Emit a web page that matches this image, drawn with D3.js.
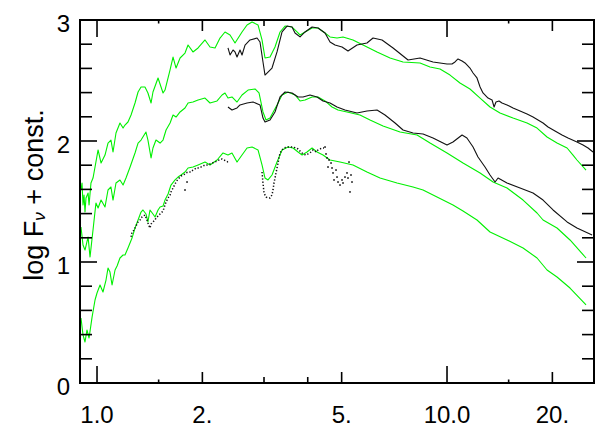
<!DOCTYPE html>
<html><head><meta charset="utf-8">
<script src="https://cdn.jsdelivr.net/npm/d3@7"></script>
<style>
body{margin:0;background:#fff}
svg{display:block}
text{font-family:"Liberation Sans",Arial,Helvetica,sans-serif;fill:#000}
</style>
</head><body>
<svg id="c" width="598" height="436"></svg>
<script>
// ---- data: [wavelength (micron), log F_nu + const] ----
const modelTop = [[0.900,1.595],[0.906,1.653],[0.912,1.471],[0.918,1.554],[0.924,1.413],[0.930,1.529],[0.943,1.570],[0.949,1.471],[0.961,1.653],[0.974,1.694],[0.987,1.785],[1.007,1.926],[1.027,1.818],[1.054,1.884],[1.075,1.983],[1.096,2.008],[1.111,1.909],[1.133,2.066],[1.163,2.149],[1.187,2.107],[1.202,2.132],[1.226,2.157],[1.251,2.215],[1.284,2.314],[1.310,2.405],[1.336,2.446],[1.371,2.446],[1.398,2.397],[1.427,2.314],[1.445,2.405],[1.494,2.521],[1.544,2.397],[1.564,2.421],[1.617,2.587],[1.649,2.694],[1.682,2.603],[1.727,2.686],[1.784,2.727],[1.820,2.793],[1.880,2.736],[1.944,2.769],[2.035,2.835],[2.103,2.777],[2.174,2.769],[2.246,2.851],[2.321,2.901],[2.399,2.876],[2.479,2.810],[2.596,2.901],[2.683,2.959],[2.773,2.983],[2.884,2.959],[2.961,2.835],[3.020,2.686],[3.121,2.694],[3.225,2.777],[3.334,2.901],[3.445,2.950],[3.608,2.942],[3.728,2.901],[3.802,2.876],[3.930,2.901],[4.115,2.934],[4.281,2.934],[4.482,2.893],[4.632,2.860],[4.850,2.851],[5.045,2.860],[5.387,2.835],[5.754,2.793],[6.310,2.736],[6.875,2.686],[7.488,2.653],[8.374,2.645],[8.943,2.612],[9.550,2.595],[10.20,2.545],[10.89,2.479],[11.63,2.430],[12.43,2.355],[13.27,2.281],[14.17,2.231],[15.44,2.190],[16.93,2.149],[18.08,2.107],[19.31,2.033],[20.62,1.983],[22.03,1.942],[22.91,1.884],[23.51,1.843],[24.96,1.760]];

const obsTop = [[2.367,2.769],[2.399,2.711],[2.447,2.752],[2.479,2.736],[2.512,2.694],[2.562,2.752],[2.596,2.711],[2.648,2.793],[2.736,2.835],[2.866,2.851],[2.922,2.818],[2.980,2.653],[3.020,2.545],[3.080,2.570],[3.162,2.603],[3.268,2.736],[3.378,2.901],[3.491,2.950],[3.608,2.942],[3.679,2.893],[3.802,2.860],[3.930,2.901],[4.115,2.942],[4.281,2.934],[4.482,2.893],[4.632,2.818],[4.786,2.793],[5.012,2.777],[5.213,2.744],[5.531,2.793],[5.906,2.810],[6.146,2.851],[6.521,2.835],[7.012,2.769],[7.739,2.669],[8.374,2.686],[9.120,2.653],[9.550,2.645],[10.0,2.636],[10.33,2.636],[10.54,2.653],[10.75,2.678],[11.04,2.661],[11.26,2.645],[11.63,2.603],[11.87,2.562],[12.18,2.521],[12.43,2.446],[12.67,2.397],[13.10,2.355],[13.45,2.339],[13.63,2.281],[13.80,2.322],[14.08,2.331],[14.36,2.314],[14.84,2.298],[15.44,2.273],[16.17,2.248],[16.93,2.223],[17.61,2.198],[18.20,2.174],[18.81,2.149],[19.44,2.116],[20.35,2.083],[21.31,2.050],[22.17,2.025],[23.51,1.992],[24.47,1.967],[25.29,1.942],[26.13,1.909]];

const modelMid = [[0.900,1.289],[0.912,1.140],[0.924,1.099],[0.943,1.207],[0.955,1.041],[0.974,1.264],[0.993,1.488],[1.007,1.446],[1.027,1.512],[1.054,1.455],[1.075,1.595],[1.096,1.620],[1.111,1.512],[1.133,1.653],[1.163,1.678],[1.187,1.636],[1.210,1.694],[1.243,1.785],[1.284,1.901],[1.310,1.983],[1.336,2.008],[1.380,2.074],[1.398,2.008],[1.427,1.860],[1.445,1.942],[1.474,2.008],[1.514,1.983],[1.544,2.008],[1.575,2.091],[1.617,2.149],[1.649,2.215],[1.682,2.198],[1.727,2.240],[1.784,2.273],[1.820,2.314],[1.880,2.322],[1.944,2.339],[2.035,2.355],[2.103,2.314],[2.203,2.331],[2.276,2.380],[2.321,2.397],[2.367,2.355],[2.430,2.364],[2.512,2.322],[2.596,2.380],[2.701,2.421],[2.828,2.430],[2.903,2.397],[2.980,2.240],[3.040,2.174],[3.121,2.190],[3.268,2.298],[3.378,2.380],[3.514,2.405],[3.679,2.380],[3.802,2.331],[3.930,2.339],[4.115,2.364],[4.281,2.364],[4.482,2.331],[4.693,2.281],[4.882,2.256],[5.179,2.240],[5.640,2.215],[6.026,2.174],[6.564,2.124],[7.342,2.074],[8.210,2.050],[8.943,1.983],[10.0,1.901],[11.11,1.818],[12.43,1.736],[13.54,1.661],[14.84,1.612],[16.49,1.512],[18.08,1.405],[18.81,1.347],[20.62,1.281],[22.46,1.182],[24.96,1.033]];

const obsMid = [[2.367,2.281],[2.430,2.256],[2.512,2.273],[2.562,2.298],[2.683,2.314],[2.791,2.322],[2.922,2.298],[2.980,2.190],[3.020,2.157],[3.121,2.174],[3.225,2.240],[3.334,2.364],[3.445,2.405],[3.608,2.397],[3.753,2.364],[3.878,2.364],[4.061,2.380],[4.253,2.364],[4.423,2.331],[4.632,2.314],[4.850,2.281],[5.111,2.256],[5.387,2.240],[5.531,2.231],[5.906,2.248],[6.310,2.256],[6.651,2.215],[7.105,2.149],[7.488,2.091],[7.998,2.066],[8.541,2.058],[9.120,2.025],[10.0,1.967],[10.40,1.992],[11.04,2.050],[11.40,2.025],[11.87,1.950],[12.26,1.868],[12.84,1.785],[13.27,1.719],[13.72,1.661],[13.99,1.694],[14.84,1.653],[16.17,1.612],[17.61,1.570],[18.81,1.512],[20.09,1.430],[22.03,1.331],[23.51,1.281],[25.97,1.223]];

const modelLow = [[0.900,0.537],[0.912,0.397],[0.924,0.339],[0.936,0.438],[0.949,0.372],[0.968,0.545],[0.987,0.686],[1.000,0.744],[1.020,0.810],[1.040,0.752],[1.061,0.851],[1.075,0.950],[1.089,0.917],[1.104,0.810],[1.126,0.934],[1.141,0.967],[1.163,1.033],[1.187,1.058],[1.202,1.058],[1.226,1.116],[1.259,1.198],[1.284,1.281],[1.310,1.347],[1.336,1.413],[1.353,1.430],[1.380,1.397],[1.398,1.331],[1.417,1.430],[1.445,1.397],[1.465,1.372],[1.494,1.430],[1.514,1.455],[1.544,1.463],[1.564,1.512],[1.596,1.562],[1.627,1.636],[1.671,1.678],[1.704,1.702],[1.738,1.719],[1.784,1.744],[1.820,1.777],[1.880,1.785],[1.944,1.802],[2.035,1.826],[2.103,1.802],[2.203,1.843],[2.291,1.901],[2.367,1.884],[2.430,1.901],[2.512,1.826],[2.596,1.884],[2.683,1.942],[2.773,1.950],[2.884,1.926],[2.961,1.802],[3.020,1.694],[3.080,1.678],[3.162,1.719],[3.268,1.826],[3.378,1.926],[3.514,1.950],[3.631,1.942],[3.753,1.909],[3.853,1.884],[3.981,1.909],[4.115,1.942],[4.253,1.909],[4.423,1.884],[4.632,1.843],[4.946,1.826],[5.387,1.802],[5.906,1.744],[6.436,1.694],[7.198,1.653],[7.998,1.620],[8.541,1.595],[9.363,1.537],[10.40,1.471],[11.11,1.421],[12.18,1.347],[13.27,1.248],[14.84,1.182],[16.49,1.116],[18.08,1.033],[19.31,0.934],[20.62,0.876],[22.46,0.785],[24.96,0.645]];

const obsLowNIR = [[1.251,1.207],[1.259,1.248],[1.276,1.264],[1.284,1.281],[1.301,1.314],[1.310,1.331],[1.327,1.347],[1.336,1.364],[1.353,1.380],[1.371,1.388],[1.389,1.347],[1.398,1.322],[1.408,1.298],[1.417,1.281],[1.427,1.314],[1.445,1.331],[1.465,1.347],[1.474,1.364],[1.494,1.380],[1.514,1.397],[1.524,1.405],[1.544,1.421],[1.564,1.471],[1.575,1.496],[1.596,1.529],[1.617,1.554],[1.627,1.579],[1.649,1.612],[1.671,1.645],[1.682,1.661],[1.704,1.686],[1.727,1.702],[1.738,1.711],[1.761,1.719],[1.784,1.727],[1.796,1.736],[1.820,1.744],[1.856,1.744],[1.880,1.760],[1.905,1.769],[1.918,1.777],[1.944,1.777],[1.969,1.785],[1.982,1.785],[2.008,1.793],[2.035,1.802],[2.076,1.802],[2.103,1.810],[2.131,1.818],[2.174,1.826],[2.203,1.835],[2.232,1.843],[2.276,1.851],[2.306,1.843],[2.337,1.835],[2.367,1.826],[2.399,1.826]];

const obsLowL = [[2.961,1.744],[2.980,1.653],[2.990,1.612],[3.000,1.570],[3.040,1.537],[3.080,1.529],[3.121,1.529],[3.162,1.554],[3.183,1.595],[3.204,1.653],[3.225,1.694],[3.246,1.736],[3.268,1.777],[3.290,1.818],[3.311,1.860],[3.334,1.901],[3.378,1.926],[3.422,1.942],[3.491,1.950],[3.560,1.950],[3.631,1.950],[3.703,1.942],[3.753,1.934],[3.827,1.909],[3.878,1.893],[3.956,1.884],[4.008,1.893],[4.088,1.909],[4.142,1.926],[4.225,1.909],[4.281,1.926],[4.394,1.942],[4.452,1.942]];

const obsLowScatter = [[1.784,1.595],[1.808,1.661],[4.482,1.950],[4.511,1.893],[4.541,1.860],[4.602,1.843],[4.663,1.818],[4.571,1.785],[4.693,1.777],[4.724,1.736],[4.755,1.678],[4.818,1.760],[4.850,1.702],[4.882,1.661],[4.946,1.636],[5.012,1.678],[5.045,1.653],[5.111,1.702],[5.179,1.736],[5.213,1.694],[5.248,1.826],[5.317,1.719],[5.352,1.661],[5.282,1.579]];

const xTickLabels = ["1.0","2.","5.","10.0","20."];
const xTickValues = [1, 2, 5, 10, 20];
const xTicksMinor = [3, 4];
const xTicksSmall = [1.5, 15];
const yTickValues = [0, 1, 2, 3];
const yTicksMinor = [0.2,0.4,0.6,0.8,1.2,1.4,1.6,1.8,2.2,2.4,2.6,2.8];

// ---- drawing ----
const L = 80, R = 594, T = 20, B = 383;
const x = d3.scaleLog().domain([0.8941, 26.30]).range([L, R]);
const y = d3.scaleLinear().domain([0, 3]).range([B, T]);
const svg = d3.select("#c");
svg.append("rect").attr("width", 598).attr("height", 436).attr("fill", "#fff");
svg.append("defs").append("clipPath").attr("id", "clip")
  .append("rect").attr("x", L).attr("y", T).attr("width", R - L).attr("height", B - T);
const plot = svg.append("g").attr("clip-path", "url(#clip)");
const line = d3.line().x(d => x(d[0])).y(d => y(d[1]));

const GREEN = "#00f000", BLACK = "#111";
[modelTop, modelMid, modelLow].forEach(s => {
  plot.append("path").attr("d", line(s)).attr("fill", "none")
    .attr("stroke", GREEN).attr("stroke-width", 1.1).attr("stroke-linejoin", "round");
});
[obsTop, obsMid].forEach(s => {
  plot.append("path").attr("d", line(s)).attr("fill", "none")
    .attr("stroke", BLACK).attr("stroke-width", 1.1).attr("stroke-linejoin", "round");
});
[obsLowNIR, obsLowL].forEach(s => {
  plot.append("path").attr("d", line(s)).attr("fill", "none")
    .attr("stroke", BLACK).attr("stroke-width", 1.5).attr("stroke-dasharray", "1.3,1.9");
});
plot.selectAll("rect.pt").data(obsLowScatter).enter().append("rect").attr("class", "pt")
  .attr("x", d => x(d[0]) - 0.8).attr("y", d => y(d[1]) - 0.8)
  .attr("width", 1.6).attr("height", 1.6).attr("fill", BLACK);

// frame
const ax = svg.append("g").attr("stroke", "#000");
ax.append("rect").attr("x", L).attr("y", T).attr("width", R - L).attr("height", B - T)
  .attr("fill", "none").attr("stroke-width", 2);

function xTick(v, len) {
  ax.append("line").attr("x1", x(v)).attr("x2", x(v)).attr("y1", B).attr("y2", B - len).attr("stroke-width", 1.6);
  ax.append("line").attr("x1", x(v)).attr("x2", x(v)).attr("y1", T).attr("y2", T + len).attr("stroke-width", 1.6);
}
xTickValues.forEach(v => xTick(v, (v === 1 || v === 10) ? 17 : 11));
xTicksMinor.forEach(v => xTick(v, 6));
xTicksSmall.forEach(v => xTick(v, 3.5));

function yTick(v, len) {
  ax.append("line").attr("x1", L).attr("x2", L + len).attr("y1", y(v)).attr("y2", y(v)).attr("stroke-width", 1.6);
  ax.append("line").attr("x1", R).attr("x2", R - len).attr("y1", y(v)).attr("y2", y(v)).attr("stroke-width", 1.6);
}
yTickValues.forEach(v => yTick(v, 17));
yTicksMinor.forEach(v => yTick(v, 12));

// labels
svg.selectAll("text.xl").data(xTickValues).enter().append("text").attr("class", "xl")
  .attr("x", d => x(d)).attr("y", 423).attr("text-anchor", "middle")
  .attr("font-size", 24).text((d, i) => xTickLabels[i]);
svg.selectAll("text.yl").data(yTickValues).enter().append("text").attr("class", "yl")
  .attr("x", 70).attr("y", d => y(d) + 11.5).attr("text-anchor", "end")
  .attr("font-size", 24).text(d => d);

const yt = svg.append("text").attr("transform", "translate(43,195) rotate(-90)")
  .attr("text-anchor", "middle").attr("font-size", 27);
yt.append("tspan").text("log F");
yt.append("tspan").attr("font-size", 17).attr("font-style", "italic").attr("dy", 2).text("ν");
yt.append("tspan").attr("dy", -2).text(" + const.");
</script>
</body></html>
